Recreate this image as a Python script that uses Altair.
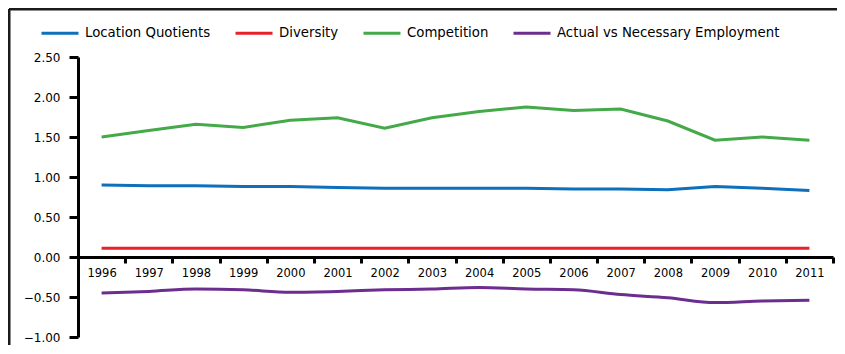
import altair as alt
import pandas as pd

years = [str(y) for y in range(1996, 2012)]
location_quotients = [0.90, 0.89, 0.89, 0.88, 0.88, 0.87, 0.86, 0.86, 0.86, 0.86, 0.85, 0.85, 0.84, 0.88, 0.86, 0.83]
diversity = [0.11] * 16
competition = [1.50, 1.58, 1.66, 1.62, 1.71, 1.74, 1.61, 1.74, 1.82, 1.875, 1.83, 1.85, 1.70, 1.46, 1.50, 1.46]
actual_vs_necessary = [-0.45, -0.43, -0.40, -0.41, -0.44, -0.43, -0.41, -0.40, -0.38, -0.40, -0.41, -0.47, -0.51, -0.57, -0.55, -0.54]

series_names = ["Location Quotients", "Diversity", "Competition", "Actual vs Necessary Employment"]
series_colors = ["#0e6fba", "#e8202a", "#44a948", "#6b2d8e"]
series_values = [location_quotients, diversity, competition, actual_vs_necessary]

rows = []
for name, vals in zip(series_names, series_values):
    for i, (y, v) in enumerate(zip(years, vals)):
        rows.append({"year": y, "series": name, "value": v, "order": i})
df = pd.DataFrame(rows)

W, H = 755, 280
FONT = "DejaVu Sans"

x_enc = alt.X(
    "year:O",
    bandPosition=0.5,
    scale=alt.Scale(type="band", paddingInner=0, paddingOuter=0),
    axis=alt.Axis(
        title=None, orient="bottom", offset=-80, labelAngle=0,
        tickBand="extent", tickSize=6, tickWidth=3, tickColor="black",
        domainColor="black", domainWidth=3, labelFontSize=11.5,
        labelColor="black", labelPadding=4, labelFont=FONT, grid=False,
    ),
)
y_enc = alt.Y(
    "value:Q",
    scale=alt.Scale(domain=[-1, 2.5], nice=False, zero=False),
    axis=alt.Axis(
        title=None, values=[-1, -0.5, 0, 0.5, 1, 1.5, 2, 2.5], format=".2f",
        tickSize=9, tickWidth=3, tickColor="black", domainColor="black",
        domainWidth=3, labelFontSize=12, labelColor="black", labelPadding=9,
        labelFont=FONT, grid=False,
    ),
)
color_enc = alt.Color(
    "series:N",
    scale=alt.Scale(domain=series_names, range=series_colors),
    legend=alt.Legend(
        title=None, orient="none", legendX=-38, legendY=-44, direction="horizontal",
        columns=4, symbolType="stroke", symbolSize=1369, symbolStrokeWidth=3,
        labelFontSize=13.3, labelFont=FONT, labelColor="black", labelOffset=5,
        labelLimit=400, columnPadding=18, padding=0,
    ),
)

straight = alt.Chart(df).transform_filter(
    alt.datum.series != "Actual vs Necessary Employment"
).mark_line(strokeWidth=3).encode(x=x_enc, y=y_enc, color=color_enc, order="order:Q")

smooth = alt.Chart(df).transform_filter(
    alt.datum.series == "Actual vs Necessary Employment"
).mark_line(strokeWidth=3, interpolate="monotone").encode(
    x=x_enc, y=y_enc, color=color_enc, order="order:Q"
)

frame_top = alt.Chart(alt.Data(values=[{}])).mark_rule(color="#1a1a1a", strokeWidth=3).encode(
    x=alt.value(-69), x2=alt.value(W + 10), y=alt.value(-48)
)
frame_left = alt.Chart(alt.Data(values=[{}])).mark_rule(color="#1a1a1a", strokeWidth=3).encode(
    x=alt.value(-69), y=alt.value(-48), y2=alt.value(H + 20)
)

chart = alt.layer(frame_top, frame_left, straight, smooth).properties(
    width=W, height=H,
    background="white",
    autosize=alt.AutoSizeParams(type="none"),
    padding={"left": 70, "top": 49, "right": 4, "bottom": 8},
).configure_view(stroke=None, strokeWidth=0)

chart.save("out.html", embed_options={"renderer": "svg", "actions": False})
